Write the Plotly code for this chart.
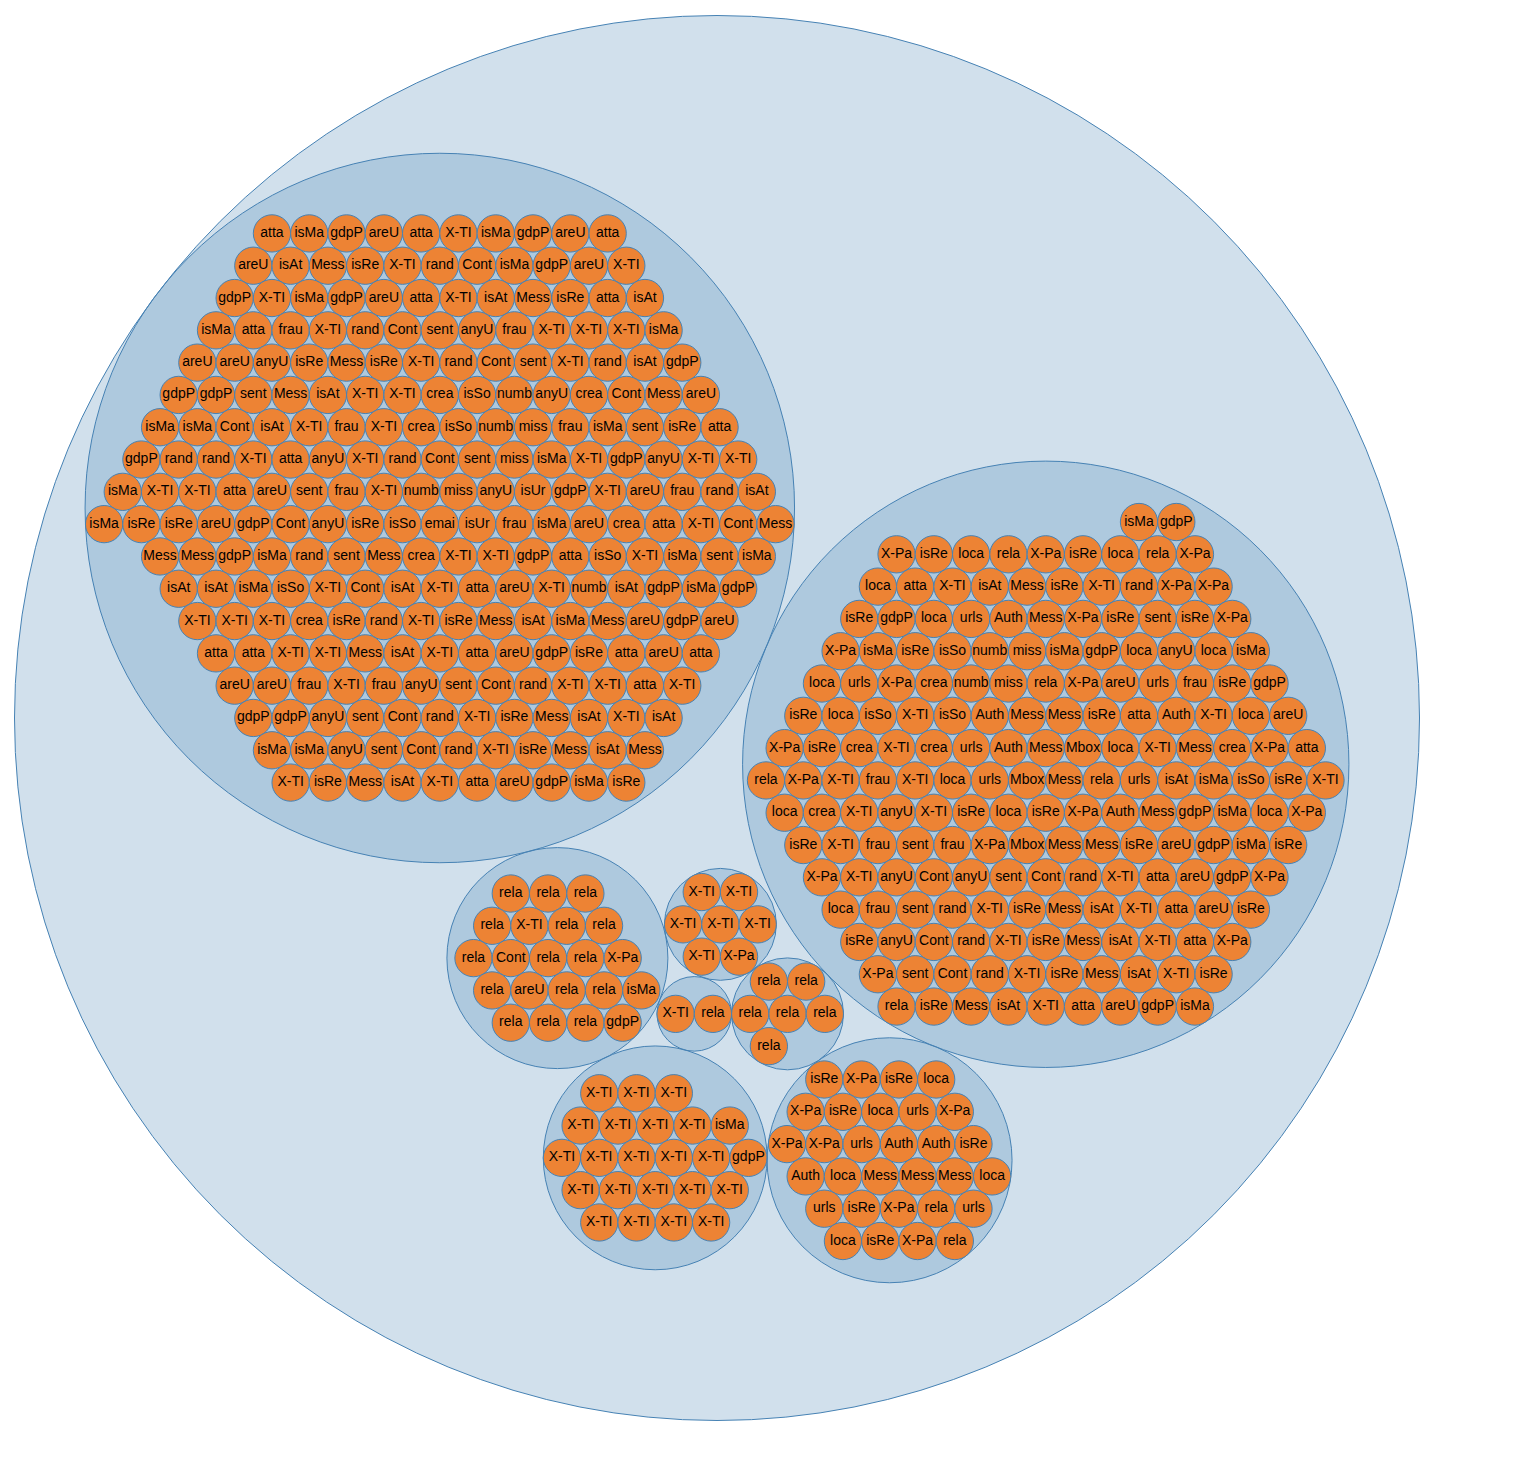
import math
import plotly.graph_objects as go

# bubble chart of header fields, grouped in clusters (circle packing, d3 v3 style)

grp_big = [
    "atta", "isMa", "gdpP", "areU", "atta", "X-TI", "isMa", "gdpP", "areU", "atta",
    "areU", "isAt", "Mess", "isRe", "X-TI", "rand", "Cont", "isMa", "gdpP", "areU", "X-TI",
    "gdpP", "X-TI", "isMa", "gdpP", "areU", "atta", "X-TI", "isAt", "Mess", "isRe", "atta", "isAt",
    "isMa", "atta", "frau", "X-TI", "rand", "Cont", "sent", "anyU", "frau", "X-TI", "X-TI", "X-TI", "isMa",
    "areU", "areU", "anyU", "isRe", "Mess", "isRe", "X-TI", "rand", "Cont", "sent", "X-TI", "rand", "isAt", "gdpP",
    "gdpP", "gdpP", "sent", "Mess", "isAt", "X-TI", "X-TI", "crea", "isSo", "numb", "anyU", "crea", "Cont", "Mess", "areU",
    "isMa", "isMa", "Cont", "isAt", "X-TI", "frau", "X-TI", "crea", "isSo", "numb", "miss", "frau", "isMa", "sent", "isRe", "atta",
    "gdpP", "rand", "rand", "X-TI", "atta", "anyU", "X-TI", "rand", "Cont", "sent", "miss", "isMa", "X-TI", "gdpP", "anyU", "X-TI", "X-TI",
    "isMa", "X-TI", "X-TI", "atta", "areU", "sent", "frau", "X-TI", "numb", "miss", "anyU", "isUr", "gdpP", "X-TI", "areU", "frau", "rand", "isAt",
    "isMa", "isRe", "isRe", "areU", "gdpP", "Cont", "anyU", "isRe", "isSo", "emai", "isUr", "frau", "isMa", "areU", "crea", "atta", "X-TI", "Cont", "Mess",
    "Mess", "Mess", "gdpP", "isMa", "rand", "sent", "Mess", "crea", "X-TI", "X-TI", "gdpP", "atta", "isSo", "X-TI", "isMa", "sent", "isMa",
    "isAt", "isAt", "isMa", "isSo", "X-TI", "Cont", "isAt", "X-TI", "atta", "areU", "X-TI", "numb", "isAt", "gdpP", "isMa", "gdpP",
    "X-TI", "X-TI", "X-TI", "crea", "isRe", "rand", "X-TI", "isRe", "Mess", "isAt", "isMa", "Mess", "areU", "gdpP", "areU",
    "atta", "atta", "X-TI", "X-TI", "Mess", "isAt", "X-TI", "atta", "areU", "gdpP", "isRe", "atta", "areU", "atta",
    "areU", "areU", "frau", "X-TI", "frau", "anyU", "sent", "Cont", "rand", "X-TI", "X-TI", "atta", "X-TI",
    "gdpP", "gdpP", "anyU", "sent", "Cont", "rand", "X-TI", "isRe", "Mess", "isAt", "X-TI", "isAt",
    "isMa", "isMa", "anyU", "sent", "Cont", "rand", "X-TI", "isRe", "Mess", "isAt", "Mess",
    "X-TI", "isRe", "Mess", "isAt", "X-TI", "atta", "areU", "gdpP", "isMa", "isRe",
]

grp_right = [
    "isMa", "gdpP",
    "X-Pa", "isRe", "loca", "rela", "X-Pa", "isRe", "loca", "rela", "X-Pa",
    "loca", "atta", "X-TI", "isAt", "Mess", "isRe", "X-TI", "rand", "X-Pa", "X-Pa",
    "isRe", "gdpP", "loca", "urls", "Auth", "Mess", "X-Pa", "isRe", "sent", "isRe", "X-Pa",
    "X-Pa", "isMa", "isRe", "isSo", "numb", "miss", "isMa", "gdpP", "loca", "anyU", "loca", "isMa",
    "loca", "urls", "X-Pa", "crea", "numb", "miss", "rela", "X-Pa", "areU", "urls", "frau", "isRe", "gdpP",
    "isRe", "loca", "isSo", "X-TI", "isSo", "Auth", "Mess", "Mess", "isRe", "atta", "Auth", "X-TI", "loca", "areU",
    "X-Pa", "isRe", "crea", "X-TI", "crea", "urls", "Auth", "Mess", "Mbox", "loca", "X-TI", "Mess", "crea", "X-Pa", "atta",
    "rela", "X-Pa", "X-TI", "frau", "X-TI", "loca", "urls", "Mbox", "Mess", "rela", "urls", "isAt", "isMa", "isSo", "isRe", "X-TI",
    "loca", "crea", "X-TI", "anyU", "X-TI", "isRe", "loca", "isRe", "X-Pa", "Auth", "Mess", "gdpP", "isMa", "loca", "X-Pa",
    "isRe", "X-TI", "frau", "sent", "frau", "X-Pa", "Mbox", "Mess", "Mess", "isRe", "areU", "gdpP", "isMa", "isRe",
    "X-Pa", "X-TI", "anyU", "Cont", "anyU", "sent", "Cont", "rand", "X-TI", "atta", "areU", "gdpP", "X-Pa",
    "loca", "frau", "sent", "rand", "X-TI", "isRe", "Mess", "isAt", "X-TI", "atta", "areU", "isRe",
    "isRe", "anyU", "Cont", "rand", "X-TI", "isRe", "Mess", "isAt", "X-TI", "atta", "X-Pa",
    "X-Pa", "sent", "Cont", "rand", "X-TI", "isRe", "Mess", "isAt", "X-TI", "isRe",
    "rela", "isRe", "Mess", "isAt", "X-TI", "atta", "areU", "gdpP", "isMa",
]

grp_rela = [
    "rela", "rela", "rela",
    "rela", "X-TI", "rela", "rela",
    "rela", "Cont", "rela", "rela", "X-Pa",
    "rela", "areU", "rela", "rela", "isMa",
    "rela", "rela", "rela", "gdpP",
]

grp_xti_small = ["X-TI", "X-TI", "X-TI", "X-TI", "X-TI", "X-TI", "X-Pa"]

grp_pair = ["X-TI", "rela"]

grp_rela_small = ["rela", "rela", "rela", "rela", "rela", "rela"]

grp_xti = [
    "X-TI", "X-TI", "X-TI",
    "X-TI", "X-TI", "X-TI", "X-TI", "isMa",
    "X-TI", "X-TI", "X-TI", "X-TI", "X-TI", "gdpP",
    "X-TI", "X-TI", "X-TI", "X-TI", "X-TI",
    "X-TI", "X-TI", "X-TI", "X-TI",
]

grp_loca = [
    "isRe", "X-Pa", "isRe", "loca",
    "X-Pa", "isRe", "loca", "urls", "X-Pa",
    "X-Pa", "X-Pa", "urls", "Auth", "Auth", "isRe",
    "Auth", "loca", "Mess", "Mess", "Mess", "loca",
    "urls", "isRe", "X-Pa", "rela", "urls",
    "loca", "isRe", "X-Pa", "rela",
]

groups = [grp_big, grp_right, grp_rela, grp_xti_small, grp_pair, grp_rela_small, grp_xti, grp_loca]

BLUE = "rgb(70,130,180)"
BLUE_FILL = "rgba(70,130,180,0.25)"
ORANGE = "#ed8334"


# --- d3 v3 pack layout (front chain, bbox centred enclosure) ---
class Circ:
    def __init__(self, r):
        self.r = r
        self.x = 0.0
        self.y = 0.0
        self.nxt = self
        self.prv = self


def pack_place(a, b, c):
    db = a.r + c.r
    dx = b.x - a.x
    dy = b.y - a.y
    if db and (dx or dy):
        da = b.r + c.r
        dc = dx * dx + dy * dy
        da *= da
        db *= db
        x = 0.5 + (db - da) / (2 * dc)
        y = math.sqrt(max(0.0, 2 * da * (db + dc) - (db - dc) ** 2 - da * da)) / (2 * dc)
        c.x = a.x + x * dx + y * dy
        c.y = a.y + x * dy - y * dx
    else:
        c.x = a.x + db
        c.y = a.y


def intersects(a, b):
    dx = b.x - a.x
    dy = b.y - a.y
    dr = a.r + b.r
    return 0.999 * dr * dr > dx * dx + dy * dy


def insert(a, b):
    c = a.nxt
    a.nxt = b
    b.prv = a
    b.nxt = c
    c.prv = b


def splice(a, b):
    a.nxt = b
    b.prv = a


def pack_siblings(nodes):
    box = [math.inf, -math.inf, math.inf, -math.inf]

    def bound(nd):
        box[0] = min(nd.x - nd.r, box[0])
        box[1] = max(nd.x + nd.r, box[1])
        box[2] = min(nd.y - nd.r, box[2])
        box[3] = max(nd.y + nd.r, box[3])

    n = len(nodes)
    a = nodes[0]
    a.x = -a.r
    a.y = 0.0
    bound(a)
    if n > 1:
        b = nodes[1]
        b.x = b.r
        b.y = 0.0
        bound(b)
        if n > 2:
            c = nodes[2]
            pack_place(a, b, c)
            bound(c)
            insert(a, c)
            a.prv = c
            insert(c, b)
            b = a.nxt
            i = 3
            while i < n:
                c = nodes[i]
                pack_place(a, b, c)
                isect = False
                s1 = s2 = 1
                j = b.nxt
                while j is not b:
                    if intersects(j, c):
                        isect = True
                        break
                    j = j.nxt
                    s1 += 1
                if isect:
                    k = a.prv
                    while k is not j.prv:
                        if intersects(k, c):
                            break
                        k = k.prv
                        s2 += 1
                    if s1 < s2 or (s1 == s2 and b.r < a.r):
                        b = j
                        splice(a, b)
                    else:
                        a = k
                        splice(a, b)
                else:
                    insert(a, c)
                    b = c
                    bound(c)
                    i += 1
    cx = (box[0] + box[1]) / 2
    cy = (box[2] + box[3]) / 2
    cr = 0.0
    for nd in nodes:
        nd.x -= cx
        nd.y -= cy
        cr = max(cr, nd.r + math.hypot(nd.x, nd.y))
    return cr


# leaves (value 1 -> r 1) inside each group, groups sorted ascending by value
order = sorted(range(len(groups)), key=lambda g: len(groups[g]))
group_nodes = []
leaf_nodes = []
for g in order:
    leaves = [Circ(1.0) for _ in groups[g]]
    node = Circ(pack_siblings(leaves))
    group_nodes.append(node)
    leaf_nodes.append(leaves)
root_r = pack_siblings(group_nodes)

# pixel scale: root drawn 702.5 px, centred at (709, 710) in the figure
k = 702.5 / root_r
W, H = 1500, 1468
CX, CY = 709, 710

shapes = [dict(type="circle", xref="x", yref="y", x0=-root_r, x1=root_r, y0=-root_r, y1=root_r,
               fillcolor=BLUE_FILL, line=dict(color=BLUE, width=1), layer="below")]
tx, ty, tt = [], [], []
for gi, g in enumerate(order):
    gn = group_nodes[gi]
    shapes.append(dict(type="circle", xref="x", yref="y",
                       x0=gn.x - gn.r, x1=gn.x + gn.r, y0=-gn.y - gn.r, y1=-gn.y + gn.r,
                       fillcolor=BLUE_FILL, line=dict(color=BLUE, width=1), layer="below"))
    # labels follow reading order: top row first, left to right
    leaves = sorted(leaf_nodes[gi], key=lambda c: (round(c.y, 3), c.x))
    for lab, lf in zip(groups[g], leaves):
        x = gn.x + lf.x
        y = -(gn.y + lf.y)
        shapes.append(dict(type="circle", xref="x", yref="y",
                           x0=x - lf.r, x1=x + lf.r, y0=y - lf.r, y1=y + lf.r,
                           fillcolor=ORANGE, line=dict(color=BLUE, width=1), layer="below"))
        tx.append(x)
        ty.append(y)
        tt.append(lab)

fig = go.Figure(go.Scatter(
    x=tx, y=ty, text=tt, mode="text",
    textfont=dict(family="Liberation Sans, Arial, sans-serif", size=14, color="black"),
    hoverinfo="text",
))

fig.update_layout(
    width=W, height=H,
    margin=dict(l=0, r=0, t=0, b=0),
    paper_bgcolor="white", plot_bgcolor="white",
    shapes=shapes,
    showlegend=False,
    xaxis=dict(range=[-CX / k, (W - CX) / k], visible=False, fixedrange=True),
    yaxis=dict(range=[(CY - H) / k, CY / k], visible=False, fixedrange=True),
)

fig.write_html("out.html")
